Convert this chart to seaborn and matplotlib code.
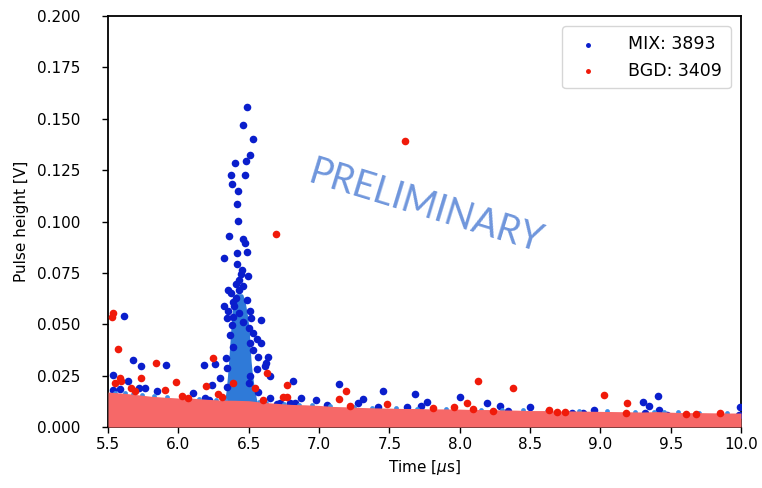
import matplotlib
matplotlib.use("Agg")
import matplotlib.pyplot as plt
from matplotlib.ticker import MultipleLocator, FormatStrFormatter
import numpy as np
import pandas as pd
import seaborn as sns

# ---- legend counts -------------------------------------------------------
MIX_COUNT = 3893
BGD_COUNT = 3409

# ---- MIX (signal + background) isolated events: time [us], height [V] ----
mix_t = [6.486, 6.457, 6.533, 6.509, 6.403, 6.479, 6.374, 6.474, 6.384, 6.422,
         6.415, 6.424, 6.362, 6.462, 6.471, 6.417, 6.488, 6.324,
         6.415, 6.452, 6.443, 6.493, 6.433, 6.408, 6.462, 6.353, 6.433, 6.372,
         6.410, 6.488, 6.386, 6.324, 6.398, 6.351, 6.509, 6.433, 6.391, 6.344,
         6.516, 6.587, 6.462, 6.379, 6.504, 6.533, 6.367, 6.557, 6.509, 6.585,
         6.391, 6.533, 6.568, 6.639, 6.339, 6.182, 6.260, 6.623, 6.616, 6.344,
         6.561, 6.296, 6.509, 6.651, 6.237, 6.348, 6.504, 6.568, 6.189, 6.651,
         6.703, 6.220,
         5.616, 5.678, 5.735, 5.912, 5.538, 5.644, 5.761, 5.718, 5.846, 6.106,
         5.585, 5.538,
         6.813, 6.872, 6.722, 6.794, 6.829, 6.976, 7.144, 7.054, 7.310, 7.279,
         7.452, 7.421, 7.684, 7.765, 7.722, 7.627,
         8.004, 8.196, 8.286, 8.345,
         8.503, 8.953, 9.302, 9.343, 9.409, 9.319, 9.416, 9.477, 9.983, 9.995,
         8.800, 8.880]
mix_v = [0.1559, 0.1471, 0.1400, 0.1325, 0.1286, 0.1293, 0.1226, 0.1226, 0.1182, 0.1148,
         0.1085, 0.1004, 0.0929, 0.0913, 0.0894, 0.0847, 0.0853, 0.0821,
         0.0793, 0.0764, 0.0745, 0.0736, 0.0715, 0.0696, 0.0686, 0.0667, 0.0667, 0.0654,
         0.0626, 0.0618, 0.0610, 0.0589, 0.0589, 0.0566, 0.0566, 0.0553, 0.0537, 0.0529,
         0.0529, 0.0521, 0.0512, 0.0496, 0.0480, 0.0459, 0.0448, 0.0427, 0.0407, 0.0407,
         0.0391, 0.0375, 0.0342, 0.0339, 0.0334, 0.0302, 0.0307, 0.0313, 0.0297, 0.0286,
         0.0281, 0.0237, 0.0248, 0.0248, 0.0204, 0.0193, 0.0213, 0.0172, 0.0140, 0.0140,
         0.0112, 0.0131,
         0.0539, 0.0324, 0.0297, 0.0302, 0.0252, 0.0224, 0.0190, 0.0190, 0.0177, 0.0165,
         0.0183, 0.0180,
         0.0225, 0.0141, 0.0118, 0.0118, 0.0115, 0.0130, 0.0209, 0.0107, 0.0135, 0.0118,
         0.0177, 0.0099, 0.0159, 0.0123, 0.0102, 0.0099,
         0.0144, 0.0115, 0.0104, 0.0078,
         0.0095, 0.0085, 0.0124, 0.0102, 0.0152, 0.0068, 0.0082, 0.0060, 0.0060, 0.0095,
         0.0068, 0.0068]

# ---- MIX dense core of the 6.4 us peak: height, left / right time edge ----
core_v = [0.006, 0.012, 0.018, 0.025, 0.032, 0.040, 0.047, 0.054, 0.060, 0.064]
core_left = [6.335, 6.340, 6.353, 6.362, 6.370, 6.378, 6.385, 6.392, 6.400, 6.412]
core_right = [6.560, 6.548, 6.530, 6.515, 6.505, 6.497, 6.492, 6.480, 6.465, 6.448]

# ---- MIX events just peeking above the background band ----
edge_t = [5.55, 5.62, 5.68, 5.74, 5.83, 5.92, 6.05, 6.15, 6.27, 6.33, 6.57, 6.62,
          6.75, 6.86, 6.95, 7.08, 7.25, 7.38, 7.55, 7.70, 7.90, 8.15, 8.30, 8.45,
          8.62, 8.85, 9.05, 9.25, 9.38, 9.45, 9.55, 9.70, 9.90]

# ---- BGD isolated events ----
bgd_t = [6.692, 7.611, 5.538, 5.531, 5.569, 5.841, 5.552, 5.585, 5.592, 5.732,
         5.985, 5.907, 5.661, 5.690, 6.024, 6.071, 6.244, 6.628, 6.197, 6.391,
         6.545, 6.284, 6.308, 6.604, 6.770, 6.746, 6.770, 7.189, 7.144, 7.220,
         7.480, 7.808, 8.127, 8.049, 8.376, 8.096, 7.961, 8.238, 8.637, 8.690,
         8.750, 9.029, 9.192, 9.184, 9.611, 9.683, 9.854]
bgd_v = [0.0941, 0.1392, 0.0553, 0.0537, 0.0381, 0.0313, 0.0213, 0.0237, 0.0224, 0.0238,
         0.0219, 0.0180, 0.0188, 0.0177, 0.0151, 0.0140, 0.0334, 0.0261, 0.0200, 0.0213,
         0.0188, 0.0161, 0.0147, 0.0131, 0.0203, 0.0148, 0.0148, 0.0177, 0.0135, 0.0102,
         0.0112, 0.0091, 0.0225, 0.0115, 0.0191, 0.0086, 0.0096, 0.0079, 0.0082, 0.0073,
         0.0072, 0.0157, 0.0118, 0.0068, 0.0062, 0.0062, 0.0070]

# ---- BGD dense band: upper envelope of the low-amplitude noise ----
band_t = [5.5, 5.6, 5.7, 5.8, 5.9, 6.0, 6.1, 6.2, 6.3, 6.4, 6.5, 6.6, 6.7, 6.8,
          6.9, 7.0, 7.1, 7.2, 7.3, 7.4, 7.5, 7.6, 7.7, 7.8, 7.9, 8.0, 8.1, 8.2,
          8.3, 8.4, 8.5, 8.6, 8.7, 8.8, 8.9, 9.0, 9.1, 9.2, 9.3, 9.4, 9.5, 9.6,
          9.7, 9.8, 9.9, 10.0]
band_v = [0.0170, 0.0165, 0.0158, 0.0150, 0.0145, 0.0141, 0.0140, 0.0135, 0.0131, 0.0130,
          0.0128, 0.0120, 0.0115, 0.0110, 0.0108, 0.0105, 0.0100, 0.0098, 0.0095, 0.0093,
          0.0092, 0.0090, 0.0090, 0.0088, 0.0088, 0.0087, 0.0085, 0.0085, 0.0083, 0.0082,
          0.0080, 0.0080, 0.0078, 0.0078, 0.0077, 0.0076, 0.0075, 0.0074, 0.0073, 0.0075,
          0.0072, 0.0070, 0.0070, 0.0069, 0.0068, 0.0068]

X_TICKS = [5.5, 6.0, 6.5, 7.0, 7.5, 8.0, 8.5, 9.0, 9.5, 10.0]

sns.set_style("ticks")
plt.rcParams.update({
    "font.family": ["DejaVu Sans"],
    "axes.edgecolor": "black",
    "xtick.color": "black",
    "ytick.color": "black",
    "axes.labelcolor": "black",
    "text.color": "black",
})

MIX_COLOR = "#0a1ecc"
CORE_COLOR = "#2f7ad8"
BGD_COLOR = "#f01a0a"
BAND_COLOR = "#f66868"

fig = plt.figure(figsize=(7.62, 4.88), dpi=100)
ax = fig.add_axes([108 / 762, 1 - 427 / 488, (741 - 108) / 762, (427 - 16) / 488])

mix = pd.DataFrame({"t": mix_t, "v": mix_v})
bgd = pd.DataFrame({"t": bgd_t, "v": bgd_v})
band = pd.DataFrame({"t": band_t, "v": band_v})

# dense MIX core around the peak
ax.fill_betweenx(core_v, core_left, core_right, facecolor=CORE_COLOR,
                 edgecolor=CORE_COLOR, lw=2.5, joinstyle="round", zorder=2)

sns.scatterplot(data=mix, x="t", y="v", color=MIX_COLOR, s=30, linewidth=0,
                label=f"MIX: {MIX_COUNT}", ax=ax, zorder=3)

# MIX events on the band edge
edge_v = np.interp(edge_t, band_t, band_v)
ax.scatter(edge_t, edge_v, s=12, color="#3a8ee8", linewidth=0, zorder=3)

# dense BGD band
ax.fill_between(band["t"], 0, band["v"], color=BAND_COLOR, lw=0, zorder=4)

sns.scatterplot(data=bgd, x="t", y="v", color=BGD_COLOR, s=30, linewidth=0,
                label=f"BGD: {BGD_COUNT}", ax=ax, zorder=5)

ax.set_xlim(5.5, 10.0)
ax.set_ylim(0.0, 0.2)
ax.set_xticks(X_TICKS)
ax.xaxis.set_major_formatter(FormatStrFormatter("%.1f"))
ax.yaxis.set_major_locator(MultipleLocator(0.025))
ax.yaxis.set_major_formatter(FormatStrFormatter("%.3f"))
ax.tick_params(labelsize=11, length=4, width=1)
ax.tick_params(axis="y", pad=16)
for sp in ax.spines.values():
    sp.set_visible(True)
    sp.set_linewidth(1.3)

ax.set_xlabel(r"Time [$\mu$s]", fontsize=11)
ax.set_ylabel("Pulse height [V]", fontsize=11, labelpad=6)

ax.legend(loc="upper right", fontsize=12.5, markerscale=0.65, frameon=True,
          handletextpad=1.3, borderpad=0.5, borderaxespad=0.6)

ax.text(7.76, 0.107, "PRELIMINARY", rotation=-17, rotation_mode="anchor",
        ha="center", va="center", fontsize=27, color="#6f96dc",
        family=["Lato", "DejaVu Sans"], zorder=6)

fig.savefig("out.png", dpi=100)
